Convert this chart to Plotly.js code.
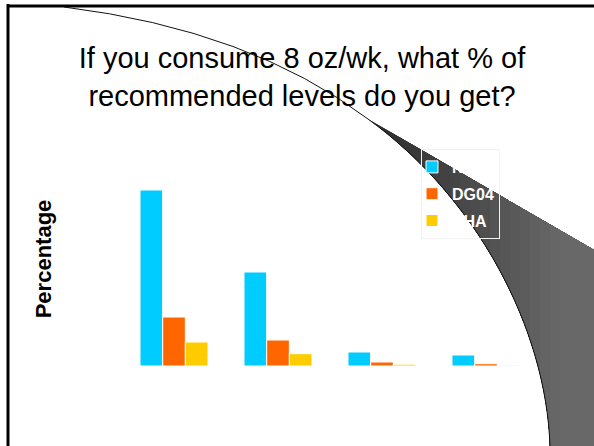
<!DOCTYPE html>
<html>
<head>
<meta charset="utf-8">
<script src="https://cdn.plot.ly/plotly-3.0.1.min.js"></script>
<style>html,body{margin:0;padding:0;background:#fff;overflow:hidden;}#chart{width:594px;height:446px;}</style>
</head>
<body>
<div id="chart"></div>
<script>
// ---- data ----
const categories = ["Group 1", "Group 2", "Group 3", "Group 4"];
const seriesNames = ["NAS", "DG04", "AHA"];
const seriesA = [176, 94, 14, 11];
const seriesB = [49, 26, 4, 2.3];
const seriesC = [24, 12.3, 1.8, 0.8];
const titleText = "If you consume 8 oz/wk, what % of<br>recommended levels do you get?";
const yTitle = "Percentage";

// ---- layout geometry ----
const W = 594, H = 446;
const M = {l: 122, r: 56, t: 152, b: 80};
const PW = W - M.l - M.r, PH = H - M.t - M.b;
function px(x) { return (x - M.l) / PW; }
function py(y) { return 1 - (y - M.t) / PH; }
function p(x, y) { return px(x).toFixed(4) + ',' + py(y).toFixed(4); }
const colors = ["#00CCFF", "#FF6600", "#FFCC00"];
const vals = [seriesA, seriesB, seriesC];

const traces = vals.map((v, i) => ({
  type: 'bar', x: categories, y: v, name: seriesNames[i],
  legendgroup: 'g' + i,
  marker: {color: colors[i], line: {color: '#ffffff', width: 1}},
  hoverinfo: 'skip'
}));

// page-curl decoration (pixel geometry)
const tip = [368, 119];
function cubic(a, b, c, d, t) {
  const u = 1 - t;
  return [u*u*u*a[0] + 3*u*u*t*b[0] + 3*u*t*t*c[0] + t*t*t*d[0],
          u*u*u*a[1] + 3*u*u*t*b[1] + 3*u*t*t*c[1] + t*t*t*d[1]];
}
const curlPoly = [tip, [594, 250], [594, 446], [550, 446]];
for (let i = 1; i < 40; i++) curlPoly.push(cubic([550,446], [546,328], [477,198], tip, i / 40));
function clipRight(poly, a) {
  const out = [];
  for (let i = 0; i < poly.length; i++) {
    const P = poly[i], Q = poly[(i + 1) % poly.length];
    const pin = P[0] >= a, qin = Q[0] >= a;
    if (pin) out.push(P);
    if (pin !== qin) {
      const t = (a - P[0]) / (Q[0] - P[0]);
      out.push([a, P[1] + t * (Q[1] - P[1])]);
    }
  }
  return out;
}
function toPath(poly) {
  return 'M' + poly.map(q => p(q[0], q[1])).join(' L') + ' Z';
}
function grey(x) {
  const t = Math.max(0, Math.min(1, (x - 390) / 170));
  const v = Math.round(0x30 + t * (0x68 - 0x30));
  return 'rgb(' + v + ',' + v + ',' + v + ')';
}
const curlShapes = [];
for (let a = 360; a < 594; a += 10) {
  const poly = clipRight(curlPoly, a);
  if (poly.length < 3) continue;
  curlShapes.push({type: 'path', xref: 'paper', yref: 'paper', path: toPath(poly),
                   fillcolor: grey(a + 5), line: {width: 0}, layer: 'above'});
}
const edgePath = 'M' + p(64,7) + ' Q' + p(250,30) + ' ' + p(tip[0], tip[1]) +
  ' C' + p(477,198) + ' ' + p(546,328) + ' ' + p(550,446);

const layout = {
  width: W, height: H,
  margin: {l: M.l, r: M.r, t: M.t, b: M.b, autoexpand: false},
  paper_bgcolor: '#ffffff', plot_bgcolor: '#ffffff',
  font: {family: 'Liberation Sans, Arial, sans-serif', color: '#000'},
  title: {text: titleText, x: 302 / W, xanchor: 'center', xref: 'container',
          y: 1 - 68 / H, yanchor: 'top', yref: 'container',
          font: {size: 29, color: '#000', family: 'Liberation Sans, Arial, sans-serif'}},
  barmode: 'group', bargap: 0.346, bargroupgap: 0,
  showlegend: true,
  legend: {x: px(421), xanchor: 'left', y: py(149), yanchor: 'top',
           bgcolor: 'rgba(0,0,0,0)', bordercolor: '#f2f2f2', borderwidth: 1,
           indentation: -10,
           font: {size: 16, color: '#ffffff', weight: 'bold'},
           traceorder: 'grouped', tracegroupgap: 3},
  xaxis: {showticklabels: false, showgrid: false, zeroline: false, showline: false, ticks: ''},
  yaxis: {range: [0, PH], showticklabels: false, showgrid: false, zeroline: false, showline: false, ticks: '',
          automargin: false,
          title: {text: yTitle, standoff: 63, font: {size: 22, weight: 'bold', color: '#000'}}},
  shapes: [
    {type: 'line', xref: 'paper', yref: 'paper', x0: px(8), y0: py(6), x1: px(600), y1: py(6), line: {color: '#000', width: 3}, layer: 'above'},
    {type: 'line', xref: 'paper', yref: 'paper', x0: px(8), y0: py(4), x1: px(8), y1: py(450), line: {color: '#000', width: 3}, layer: 'above'}
  ].concat(curlShapes).concat([
    {type: 'path', xref: 'paper', yref: 'paper', path: edgePath, line: {color: '#111', width: 1}, layer: 'above'}
  ])
};

Plotly.newPlot('chart', traces, layout, {displayModeBar: false, staticPlot: true});
</script>
</body>
</html>
